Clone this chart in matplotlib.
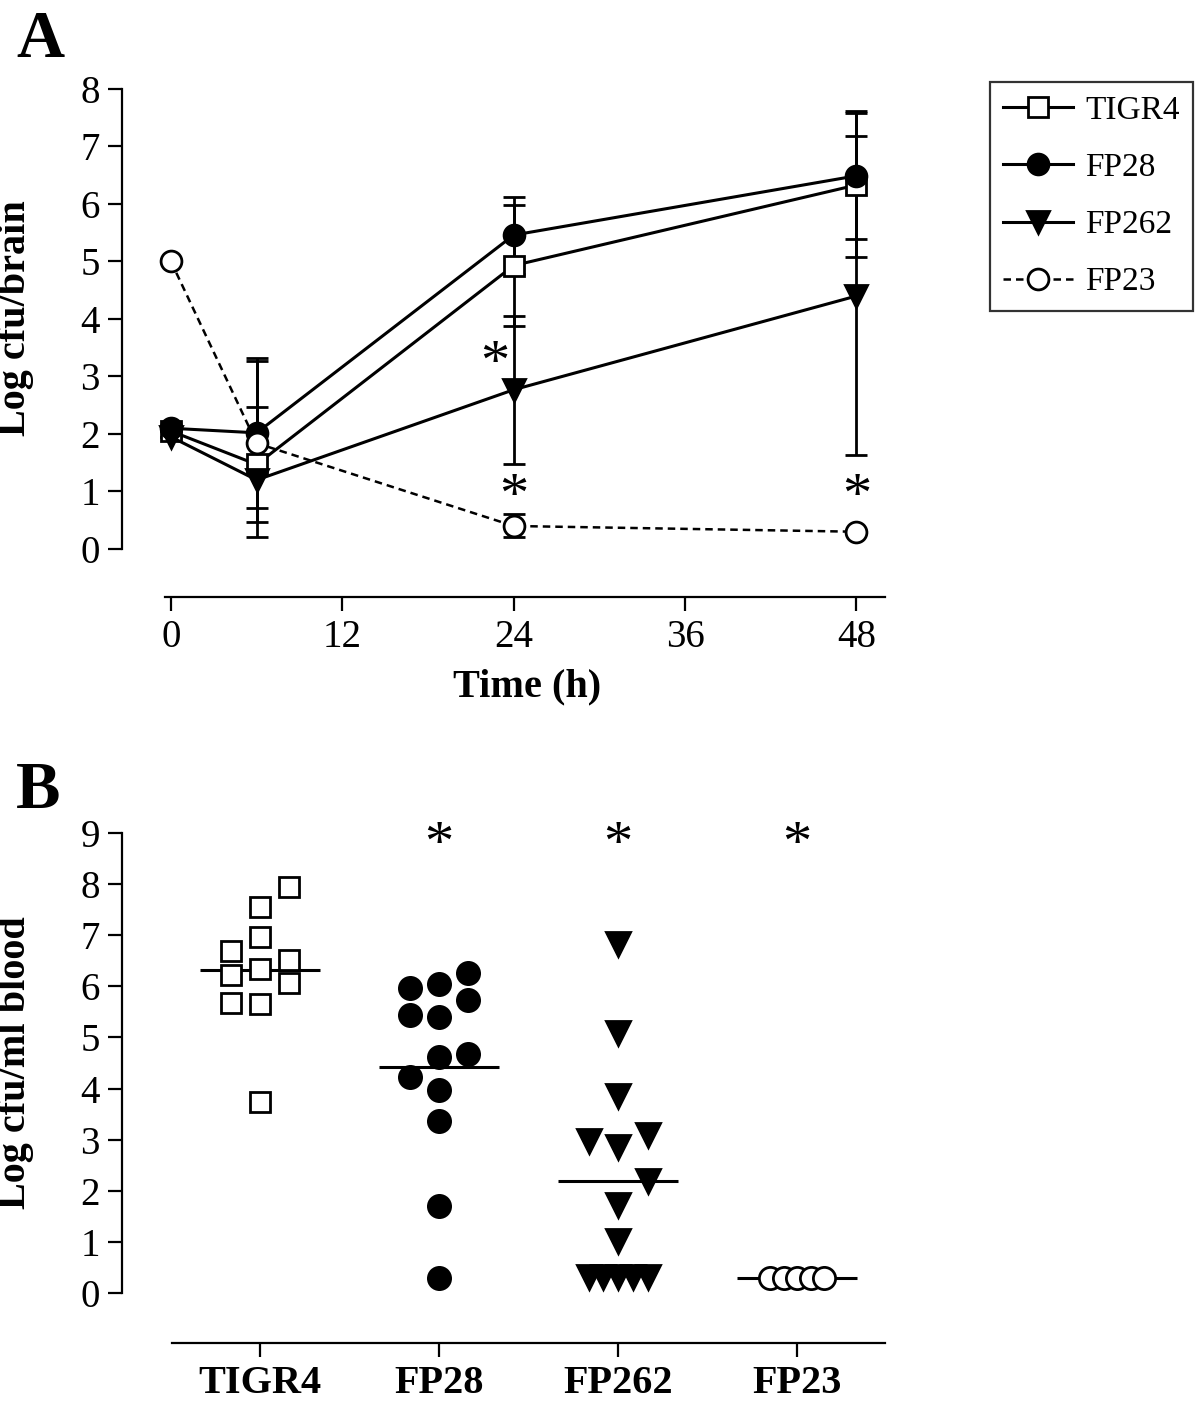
import matplotlib.pyplot as plt
from matplotlib.lines import Line2D
import numpy as np

plt.rcParams['font.family'] = ['Liberation Serif', 'DejaVu Serif']

# Panel A: time course in brain
hours = [0, 6, 24, 48]
strains = ['TIGR4', 'FP28', 'FP262', 'FP23']
brain_mean = {
    'TIGR4': [2.05, 1.47, 4.93, 6.33],
    'FP28':  [2.10, 2.02, 5.46, 6.49],
    'FP262': [1.95, 1.20, 2.77, 4.40],
    'FP23':  [5.00, 1.84, 0.40, 0.30],
}
brain_err_lo = {
    'TIGR4': [0, 1.00, 1.06, 1.25],
    'FP28':  [0, 1.30, 0.67, 1.10],
    'FP262': [0, 1.00, 1.29, 2.77],
    'FP23':  [0, 0, 0.20, 0],
}
brain_err_hi = {
    'TIGR4': [0, 1.00, 1.05, 1.25],
    'FP28':  [0, 1.30, 0.67, 1.12],
    'FP262': [0, 2.07, 1.28, 2.78],
    'FP23':  [0, 0, 0.20, 0],
}
sig_A = [(22.7, 3.2), (24, 0.88), (48, 0.88)]

# Panel B: blood counts per animal (value, column within group)
tigr4_vals = [7.94, 7.56, 6.97, 6.69, 6.52, 6.33, 6.22, 6.07, 5.68, 5.66, 3.74]
tigr4_col  = [1, 0, 0, -1, 1, 0, -1, 1, -1, 0, 0]
fp28_vals  = [6.26, 6.04, 5.97, 5.74, 5.44, 5.40, 4.68, 4.62, 4.22, 3.98, 3.36, 1.70, 0.30]
fp28_col   = [1, 0, -1, 1, -1, 0, 1, 0, -1, 0, 0, 0, 0]
fp262_vals = [6.82, 5.09, 3.85, 3.09, 2.97, 2.86, 2.19, 1.72, 1.02, 0.31, 0.31, 0.31, 0.31, 0.31]
fp262_col  = [0, 0, 0, 1, -1, 0, 1, 0, 0, -1, -0.5, 0, 0.5, 1]
fp23_vals  = [0.30, 0.30, 0.30, 0.30, 0.30]
fp23_col   = [-1, -0.5, 0, 0.5, 1]
medians = [6.31, 4.43, 2.19, 0.30]
sig_B = ['FP28', 'FP262', 'FP23']

styles = {
    'TIGR4': dict(marker='s', mfc='white', ls='-', ms=14),
    'FP28':  dict(marker='o', mfc='black', ls='-', ms=15),
    'FP262': dict(marker='v', mfc='black', ls='-', ms=16),
    'FP23':  dict(marker='o', mfc='white', ls=(0, (3, 2)), ms=15),
}

W, H = 1200, 1404
fig = plt.figure(figsize=(W / 100, H / 100), dpi=100)

def box(l, r, t, b):
    return [l / W, 1 - b / H, (r - l) / W, (b - t) / H]

def style_axes(ax):
    for s in ['top', 'right']:
        ax.spines[s].set_visible(False)
    for s in ['left', 'bottom']:
        ax.spines[s].set_linewidth(1.6)
    ax.tick_params(direction='out', length=10, width=1.6, labelsize=28, pad=6)

# ---------- A ----------
axA = fig.add_axes(box(122, 885, 89, 597))
style_axes(axA)
handles = []
for name in strains:
    st = styles[name]
    lw = 1.8 if name == 'FP23' else 2.2
    axA.errorbar(hours, brain_mean[name],
                 yerr=[brain_err_lo[name], brain_err_hi[name]],
                 color='black', lw=lw,
                 ls=st['ls'], marker=st['marker'], ms=st['ms'],
                 mfc=st['mfc'], mec='black', mew=2,
                 ecolor='black', elinewidth=2, capsize=8, capthick=2,
                 clip_on=False)
    handles.append(Line2D([], [], color='black', lw=lw, ls=st['ls'],
                          marker=st['marker'], ms=st['ms'], mfc=st['mfc'],
                          mec='black', mew=2, label=name))
for x, y in sig_A:
    axA.text(x, y, '*', fontsize=42, ha='center', va='center')
axA.set_xlim(-3.43, 50)
axA.set_ylim(-0.835, 8)
axA.spines['left'].set_bounds(0, 8)
axA.spines['bottom'].set_bounds(-0.42, 50)
axA.set_xticks([0, 12, 24, 36, 48])
axA.set_yticks(range(9))
axA.set_xlabel('Time (h)', fontsize=29, fontweight='bold')
axA.set_ylabel('Log cfu/brain', fontsize=29, fontweight='bold')
axA.xaxis.set_label_coords(0.531, -0.14)
axA.yaxis.set_label_coords(-0.115, 0.549)

leg = fig.legend(handles=handles, loc='upper left',
                 bbox_to_anchor=(990 / W, 1 - 82 / H),
                 fontsize=24, frameon=True, fancybox=False, handlelength=2.1,
                 handletextpad=0.35, labelspacing=0.8, borderpad=0.4,
                 borderaxespad=0)
leg.get_frame().set_edgecolor('black')
leg.get_frame().set_linewidth(1.6)

# ---------- B ----------
axB = fig.add_axes(box(122, 885, 833, 1343))
style_axes(axB)
groups = [(tigr4_vals, tigr4_col, 0.162), (fp28_vals, fp28_col, 0.162),
          (fp262_vals, fp262_col, 0.165), (fp23_vals, fp23_col, 0.150)]
for i, (name, (vals, cols, step)) in enumerate(zip(strains, groups)):
    st = styles[name]
    xs = i + np.array(cols) * step
    axB.hlines(medians[i], i - 0.335, i + 0.335, color='black', lw=2.2, zorder=1)
    axB.plot(xs, vals, ls='none', marker=st['marker'], ms=st['ms'] + 1,
             mfc=st['mfc'], mec='black', mew=2, zorder=3, clip_on=False)
for name in sig_B:
    axB.text(strains.index(name), 8.75, '*', fontsize=42, ha='center', va='center')
axB.set_xlim(-0.771, 3.49)
axB.set_ylim(-0.98, 9)
axB.spines['left'].set_bounds(0, 9)
axB.spines['bottom'].set_bounds(-0.49, 3.49)
axB.set_xticks(range(4))
axB.set_xticklabels(strains, fontweight='bold', fontsize=29)
axB.set_yticks(range(10))
axB.set_ylabel('Log cfu/ml blood', fontsize=29, fontweight='bold')
axB.yaxis.set_label_coords(-0.115, 0.549)

fig.text(16 / W, 1 - 57 / H, 'A', fontsize=48, fontweight='bold')
fig.text(16 / W, 1 - 808 / H, 'B', fontsize=48, fontweight='bold')

plt.savefig('out.png', dpi=100)
